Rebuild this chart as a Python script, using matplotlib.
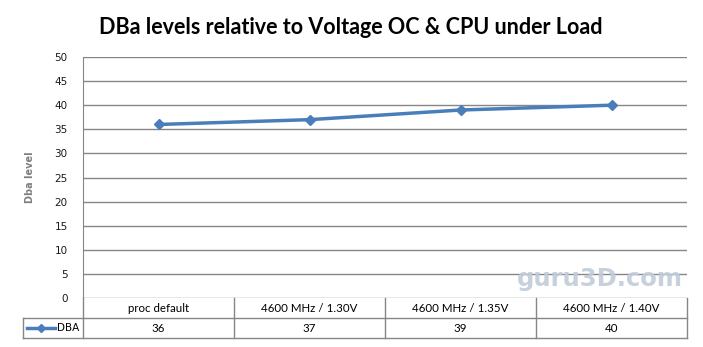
import numpy as np
import matplotlib.pyplot as plt

categories = ['proc default', '4600 MHz / 1.30V', '4600 MHz / 1.35V', '4600 MHz / 1.40V']
dba = [36, 37, 39, 40]
series_name = 'DBA'
yticks = [0, 5, 10, 15, 20, 25, 30, 35, 40, 45, 50]

W, H = 703, 347
fig = plt.figure(figsize=(W / 100, H / 100), dpi=100)
grid_c = '#868686'
line_c = '#4a7ebb'

# main plot area
x0, x1, ytop, ybot = 83, 687, 57, 298
ax = fig.add_axes([x0 / W, 1 - ybot / H, (x1 - x0) / W, (ybot - ytop) / H])
xs = np.arange(len(categories))
ax.set_xlim(-0.5, len(categories) - 0.5)
ax.set_ylim(0, 50)
ax.set_yticks(yticks)
for y in yticks:
    ax.axhline(y, color=grid_c, lw=1, zorder=1)
ax.plot(xs, dba, color=line_c, lw=2.5, marker='D', ms=5.5, zorder=3)
ax.set_xticks([])
for s in ['top', 'right', 'bottom']:
    ax.spines[s].set_visible(False)
ax.spines['left'].set_color(grid_c)
ax.tick_params(axis='y', length=0, pad=11, labelsize=7.5, labelcolor='#1a1a1a')
ax.set_ylabel('Dba level', fontsize=7, color='#7f7f7f', fontweight='bold', labelpad=14)

fig.text(351 / W, 1 - 27 / H, 'DBa levels relative to Voltage OC & CPU under Load',
         ha='center', va='center', fontsize=15.5, fontweight='bold', family='Lato')

# data table below the plot
tl = 23
colw = (x1 - x0) / len(categories)
lead = (x0 - tl) / colw
at = fig.add_axes([tl / W, 1 - 338 / H, (x1 - tl) / W, 40 / H])
at.set_xlim(-0.5 - lead, len(categories) - 0.5)
at.set_ylim(0, 2)
at.axis('off')
kw = dict(color=grid_c, lw=1, clip_on=False)
at.plot([-0.5 - lead, len(categories) - 0.5], [1, 1], **kw)
at.plot([-0.5 - lead, len(categories) - 0.5], [0, 0], **kw)
at.plot([-0.5 - lead, -0.5 - lead], [0, 1], **kw)
for i in range(len(categories) + 1):
    at.plot([i - 0.5, i - 0.5], [0, 2], **kw)
for i, (c, v) in enumerate(zip(categories, dba)):
    at.text(i, 1.5, c, ha='center', va='center', fontsize=8.3, family='Lato')
    at.text(i, 0.5, str(v), ha='center', va='center', fontsize=8.3, family='Lato')
at.plot([-0.5 - lead + 0.025, -0.5 - lead + 0.21], [0.5, 0.5], color=line_c, lw=2.5,
        clip_on=False)
at.plot([-0.5 - lead + 0.118], [0.5], color=line_c, marker='D', ms=4.5, clip_on=False)
at.text(-0.5 - lead + 0.225, 0.5, series_name, ha='left', va='center', fontsize=7.5)

# watermark
fig.text(600 / W, 1 - 279 / H, 'guru3D.com', ha='center', va='center', fontsize=17.5,
         fontweight='bold', color='#c0ccd9', family='DejaVu Sans', alpha=0.9)

fig.savefig('out.png', dpi=100)
